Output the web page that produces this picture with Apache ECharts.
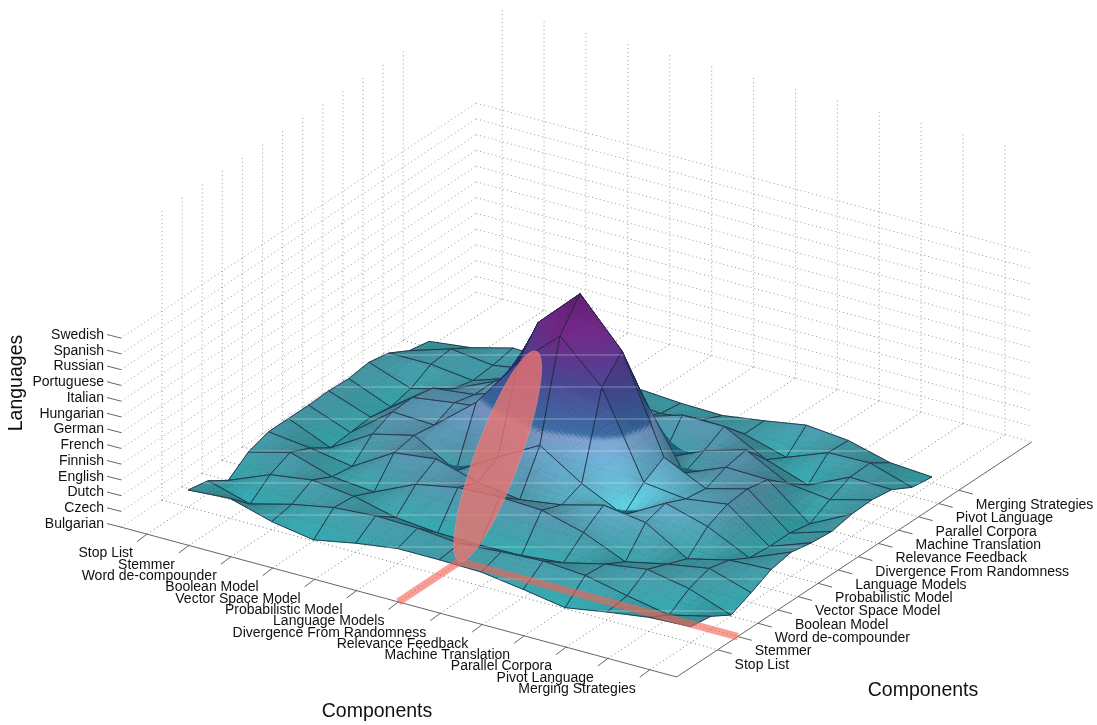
<!DOCTYPE html>
<html>
<head>
<meta charset="utf-8">
<script src="https://cdn.jsdelivr.net/npm/echarts@6/dist/echarts.min.js"></script>
<style>
html, body { margin: 0; background: #fff; }
#main { width: 1097px; height: 725px; }
</style>
</head>
<body>
<div id="main"></div>
<script>
let components = ['Stop List', 'Stemmer', 'Word de-compounder', 'Boolean Model', 'Vector Space Model',
    'Probabilistic Model', 'Language Models', 'Divergence From Randomness', 'Relevance Feedback',
    'Machine Translation', 'Parallel Corpora', 'Pivot Language', 'Merging Strategies'];
let languages = ['Bulgarian', 'Czech', 'Dutch', 'English', 'Finnish', 'French', 'German', 'Hungarian',
    'Italian', 'Portuguese', 'Russian', 'Spanish', 'Swedish'];

// surface heights, one row per component on the depth axis
let row0  = [17, 20, 8, 1, 9, 15, 15, 14, 8, 1, 8, 14, 16];
let row1  = [13, 1, 12, 20, 23, 22, 18, 21, 23, 20, 11, 3, 13];
let row2  = [0, 17, 23, 18, 8, 4, 3, 4, 8, 18, 24, 16, 1];
let row3  = [15, 26, 13, 9, 28, 36, 38, 36, 25, 7, 16, 23, 10];
let row4  = [22, 17, 10, 35, 40, 28, 22, 28, 39, 33, 8, 18, 20];
let row5  = [22, 4, 29, 39, 15, 40, 63, 36, 16, 39, 27, 7, 24];
let row6  = [22, 6, 38, 36, 70, 121, 159, 119, 35, 30, 36, 5, 20];
let row7  = [23, 8, 39, 45, 50, 148, 188, 142, 47, 27, 38, 5, 18];
let row8  = [22, 5, 35, 40, 55, 100, 130, 85, 18, 35, 34, 1, 22];
let row9  = [25, 10, 21, 40, 60, 50, 40, 8, 27, 39, 17, 12, 23];
let row10 = [21, 21, 16, 30, 35, 35, 25, 38, 38, 16, 2, 21, 20];
let row11 = [10, 23, 18, 25, 25, 20, 15, 20, 17, 5, 21, 22, 9];
let row12 = [6, 11, 22, 20, 18, 15, 12, 11, 17, 24, 20, 9, 6];
let heights = [row0, row1, row2, row3, row4, row5, row6, row7, row8, row9, row10, row11, row12];

// selected cell: column, row and the tilted ellipse above it
let selectedColumn = 6;
let selectedRow = 1;

// box limits in grid units
const I_MIN = -0.62, I_MAX = 12.64, J_MIN = -2.04, J_MAX = 15.63;
const LEVEL = 15.75, WALL = 290;
const FONT = '"Liberation Sans", Arial, sans-serif';

// oblique projection of the 3d box on to the page axes
function project(i, j, z) {
    return [188 + 41.9 * i + 20.1 * j, 507 + 11.3 * i - 13.3 * j - z];
}

function lerp(a, b, t) { return a + (b - a) * t; }

let colorStops = [
    [0, 44, 160, 165], [15, 60, 150, 160], [35, 80, 140, 163], [58, 98, 148, 186], [73, 120, 145, 190],
    [78, 55, 105, 160], [120, 75, 70, 145], [160, 115, 40, 135], [188, 95, 35, 112]
];
function baseColor(z) {
    for (let k = 1; k < colorStops.length; k++) {
        if (z <= colorStops[k][0]) {
            let a = colorStops[k - 1], b = colorStops[k];
            let t = Math.max(0, (z - a[0]) / (b[0] - a[0]));
            return [lerp(a[1], b[1], t), lerp(a[2], b[2], t), lerp(a[3], b[3], t)];
        }
    }
    return colorStops[colorStops.length - 1].slice(1);
}

function height(i, j) {
    let i0 = Math.min(11, Math.floor(i)), j0 = Math.min(11, Math.floor(j));
    let s = i - i0, t = j - j0;
    return lerp(lerp(heights[j0][i0], heights[j0][i0 + 1], s), lerp(heights[j0 + 1][i0], heights[j0 + 1][i0 + 1], s), t);
}

function shadeColor(i, j, z, front) {
    let e = 0.02;
    let gi = (height(Math.min(12, i + e), j) - height(Math.max(0, i - e), j)) / (2 * e) / 40;
    let gj = (height(i, Math.min(12, j + e)) - height(i, Math.max(0, j - e))) / (2 * e) / 28;
    let c = baseColor(z);
    if (!front) {
        return 'rgb(' + [c[0] * 0.38, c[1] * 0.68, c[2] * 0.76].map(Math.round).join(',') + ')';
    }
    let dot = (-gi * 0.12 + gj * 0.62 + 0.78) / Math.sqrt(1 + gi * gi + gj * gj);
    let s = Math.min(1.08, Math.max(0.84, 1 + (dot - 0.78) * 0.4));
    // soft bright patch on the foot of the peak
    let d = Math.sqrt((i - 8) * (i - 8) + (j - 5.4) * (j - 5.4));
    let g = z < 76 ? Math.max(0, 1 - d / 2.3) * (1 - 0.7 * z / 82) : 0;
    g = Math.min(1, g * 1.3);
    return 'rgb(' + [c[0] * s + g * 20, c[1] * s + g * 56, c[2] * s + g * 56].map(v => Math.round(Math.min(255, v))).join(',') + ')';
}

function line(api, a, b, style) {
    let p = api.coord(a), q = api.coord(b);
    return { type: 'line', shape: { x1: p[0], y1: p[1], x2: q[0], y2: q[1] }, style: style, silent: true };
}

// --- dotted box
const dotted = { stroke: '#9a9a9a', lineWidth: 1, lineDash: [1, 3] };
function boxLines() {
    let out = [];
    for (let n = 0; n < 13; n++) {
        out.push([project(n, J_MIN, 0), project(n, J_MAX, 0)]);
        out.push([project(I_MIN, n, 0), project(I_MAX, n, 0)]);
        out.push([project(n, J_MAX, 0), project(n, J_MAX, WALL)]);
        out.push([project(I_MIN, n, 0), project(I_MIN, n, WALL)]);
        out.push([project(I_MIN, J_MIN, n * LEVEL), project(I_MIN, J_MAX, n * LEVEL)]);
        out.push([project(I_MIN, J_MAX, n * LEVEL), project(I_MAX, J_MAX, n * LEVEL)]);
    }
    return out;
}
function floorLines() {
    let out = [];
    for (let n = 0; n < 13; n++) {
        out.push([project(n, J_MIN, 0), project(n, J_MAX, 0)]);
        out.push([project(I_MIN, n, 0), project(I_MAX, n, 0)]);
    }
    return out;
}
function segmentSeries(name, segments, style) {
    return {
        type: 'custom', name: name, silent: true, clip: false,
        data: segments.map(s => [s[0][0], s[0][1], s[1][0], s[1][1]]),
        encode: { x: 0, y: 1 },
        renderItem: function (params, api) {
            return line(api, [api.value(0), api.value(1)], [api.value(2), api.value(3)], style);
        }
    };
}

// --- surface
let cells = [];
for (let j = 11; j >= 0; j--) {
    for (let i = 0; i < 12; i++) cells.push([i, j]);
}
function renderCell(params, api) {
    let ci = api.value(0), cj = api.value(1);
    let corners = [heights[cj][ci], heights[cj][ci + 1], heights[cj + 1][ci], heights[cj + 1][ci + 1]];
    // finer pieces where the colour step crosses the cell
    let SUB = Math.max.apply(null, corners) > 70 ? 28 : 5;
    let children = [];
    for (let b = 0; b < SUB; b++) {
        for (let a = 0; a < SUB; a++) {
            let pts = [[a, b], [a + 1, b], [a + 1, b + 1], [a, b + 1]].map(function (p) {
                let i = ci + p[0] / SUB, j = cj + p[1] / SUB;
                return project(i, j, height(i, j));
            });
            let ax = pts[2][0] - pts[0][0], ay = pts[2][1] - pts[0][1];
            let bx = pts[3][0] - pts[1][0], by = pts[3][1] - pts[1][1];
            let front = ax * by - ay * bx < 0;
            let mi = ci + (a + 0.5) / SUB, mj = cj + (b + 0.5) / SUB;
            let color = shadeColor(mi, mj, height(mi, mj), front);
            children.push({
                type: 'polygon', silent: true,
                shape: { points: pts.map(p => api.coord(p)) },
                style: { fill: color, stroke: color, lineWidth: 0.7 }
            });
        }
    }
    let meshStyle = { stroke: 'rgba(28,36,58,0.8)', lineWidth: 1 };
    let edge = (i0, j0, i1, j1) => line(api, project(i0, j0, heights[j0][i0]), project(i1, j1, heights[j1][i1]), meshStyle);
    children.push(edge(ci, cj, ci + 1, cj), edge(ci + 1, cj, ci + 1, cj + 1),
        edge(ci + 1, cj + 1, ci, cj + 1), edge(ci, cj + 1, ci, cj));
    return { type: 'group', children: children };
}

// pale scan bands that run over the surface only
function bandSegments() {
    let out = [];
    for (let y = 355; y <= 611; y += 32) {
        let spans = [];
        cells.forEach(function (c) {
            let q = [[c[0], c[1]], [c[0] + 1, c[1]], [c[0] + 1, c[1] + 1], [c[0], c[1] + 1]]
                .map(p => project(p[0], p[1], heights[p[1]][p[0]]));
            let xs = [];
            for (let k = 0; k < 4; k++) {
                let a = q[k], b = q[(k + 1) % 4];
                if ((a[1] - y) * (b[1] - y) < 0) xs.push(lerp(a[0], b[0], (y - a[1]) / (b[1] - a[1])));
            }
            if (xs.length >= 2) spans.push([Math.min.apply(null, xs), Math.max.apply(null, xs)]);
        });
        spans.sort((a, b) => a[0] - b[0]);
        let cur = null;
        spans.forEach(function (s) {
            if (cur && s[0] <= cur[1] + 1) cur[1] = Math.max(cur[1], s[1]);
            else { if (cur) out.push([[cur[0], y], [cur[1], y]]); cur = s.slice(); }
        });
        if (cur) out.push([[cur[0], y], [cur[1], y]]);
    }
    return out;
}

// --- ellipse standing on the selected cell
function ellipsePoints() {
    let pts = [];
    for (let k = 0; k < 72; k++) {
        let t = k / 72 * Math.PI * 2;
        let cosT = Math.cos(t), sinT = Math.sin(t);
        pts.push(project(selectedColumn + 0.52 * sinT, selectedRow + 1.9 + 1.9 * cosT, 80 + 80 * cosT));
    }
    return pts;
}

function labelSeries(names, place) {
    return {
        type: 'custom', silent: true, clip: false,
        data: names.map((n, k) => [k]),
        encode: { x: 0 },
        renderItem: function (params, api) {
            let k = api.value(0);
            let o = place(k);
            let p = api.coord(o.at);
            return {
                type: 'group', children: [
                    line(api, o.tick[0], o.tick[1], { stroke: '#666', lineWidth: 1 }),
                    {
                        type: 'text', silent: true, x: p[0], y: p[1],
                        style: {
                            text: names[k], fill: '#111', font: '14px ' + FONT,
                            textAlign: o.align, textVerticalAlign: 'middle'
                        }
                    }
                ]
            };
        }
    };
}

function titleSeries(text, at, rotation) {
    return {
        type: 'custom', silent: true, clip: false,
        data: [[0]], encode: { x: 0 },
        renderItem: function (params, api) {
            let p = api.coord(at);
            return {
                type: 'text', silent: true, x: p[0], y: p[1], rotation: rotation,
                style: { text: text, fill: '#111', font: '19.5px ' + FONT, textAlign: 'center', textVerticalAlign: 'middle' }
            };
        }
    };
}

let redStyle = { stroke: 'rgba(246,98,84,0.62)', lineWidth: 7.5 };

let option = {
    animation: false,
    backgroundColor: '#fff',
    grid: { left: 0, right: 0, top: 0, bottom: 0 },
    xAxis: { type: 'value', min: 0, max: 1097, show: false },
    yAxis: { type: 'value', min: 0, max: 725, inverse: true, show: false },
    series: [
        segmentSeries('box', boxLines(), dotted),
        segmentSeries('axes', [
            [project(I_MIN, J_MIN, 0), project(I_MAX, J_MIN, 0)],
            [project(I_MAX, J_MIN, 0), project(I_MAX, J_MAX, 0)]
        ], { stroke: '#666', lineWidth: 1 }),
        {
            type: 'custom', name: 'surface', silent: true, clip: false,
            data: cells, encode: { x: 0, y: 1 },
            renderItem: renderCell
        },
        segmentSeries('floor seen through', floorLines(), { stroke: 'rgba(20,40,60,0.2)', lineWidth: 1, lineDash: [1, 3] }),
        segmentSeries('bands', bandSegments(), { stroke: 'rgba(255,255,255,0.36)', lineWidth: 1 }),
        segmentSeries('selection', [
            [project(selectedColumn, J_MIN, 0), project(selectedColumn, selectedRow, 0)],
            [project(selectedColumn, selectedRow, 0), project(I_MAX, selectedRow, 0)]
        ], redStyle),
        {
            type: 'custom', name: 'ellipse', silent: true, clip: false,
            data: [[selectedColumn, selectedRow]], encode: { x: 0, y: 1 },
            renderItem: function (params, api) {
                return {
                    type: 'polygon', silent: true,
                    shape: { points: ellipsePoints().map(p => api.coord(p)) },
                    style: { fill: 'rgba(235,115,112,0.8)', stroke: 'rgba(255,190,180,0.25)', lineWidth: 1 }
                };
            }
        },
        labelSeries(languages, function (k) {
            let a = project(I_MIN, J_MIN, k * LEVEL);
            return { tick: [[a[0] - 14, a[1] - 3.6], a], at: [a[0] - 17, a[1] - 3], align: 'right' };
        }),
        labelSeries(components, function (k) {
            let a = project(k, J_MIN, 0);
            return { tick: [a, [a[0] - 10, a[1] + 7.5]], at: [a[0] - 14, a[1] + 19.5], align: 'right' };
        }),
        labelSeries(components, function (k) {
            let a = project(I_MAX, k, 0);
            return { tick: [a, [a[0] + 14, a[1] + 3.8]], at: [a[0] + 17, a[1] + 15], align: 'left' };
        }),
        titleSeries('Components', [377, 712], 0),
        titleSeries('Components', [923, 691], 0),
        titleSeries('Languages', [17, 383], Math.PI / 2)
    ]
};

let myChart = echarts.init(document.getElementById('main'));
myChart.setOption(option);
</script>
</body>
</html>
